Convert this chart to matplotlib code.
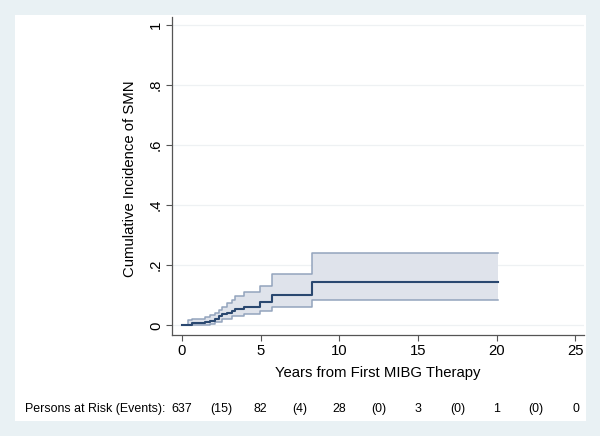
import matplotlib
matplotlib.use("Agg")
import matplotlib.pyplot as plt
from matplotlib.patches import Rectangle
from matplotlib.transforms import blended_transform_factory

plt.rcParams['font.family'] = ['Liberation Sans', 'DejaVu Sans']

# Data
times = [0, 0.42, 0.64, 1.49, 1.80, 2.12, 2.34, 2.55, 2.87, 3.18, 3.40, 3.93, 4.99, 5.73, 8.28, 20.05]
cif   = [0, 0.003, 0.008, 0.011, 0.016, 0.022, 0.030, 0.038, 0.043, 0.049, 0.056, 0.063, 0.077, 0.102, 0.143, 0.143]
upper = [0, 0.017, 0.022, 0.028, 0.036, 0.042, 0.052, 0.063, 0.074, 0.086, 0.099, 0.111, 0.130, 0.172, 0.241, 0.241]
lower = [0, 0.000, 0.003, 0.003, 0.006, 0.013, 0.013, 0.021, 0.021, 0.030, 0.030, 0.038, 0.047, 0.061, 0.086, 0.086]

x_ticks = [0, 5, 10, 15, 20, 25]
y_ticks = [0, 0.2, 0.4, 0.6, 0.8, 1.0]
y_tick_labels = ['0', '.2', '.4', '.6', '.8', '1']

risk_times = [0, 2.5, 5, 7.5, 10, 12.5, 15, 17.5, 20, 22.5, 25]
risk_labels = ['637', '(15)', '82', '(4)', '28', '(0)', '3', '(0)', '1', '(0)', '0']

W, H = 600, 436
fig = plt.figure(figsize=(6, 4.36), dpi=100)
fig.patch.set_facecolor('#e9f1f4')
fig.patches.append(Rectangle((15 / W, 1 - 421 / H), (586 - 15) / W, (421 - 15) / H,
                             transform=fig.transFigure, facecolor='white',
                             edgecolor='none', zorder=-10))

ax = fig.add_axes([172 / W, 1 - 335 / H, (584 - 172) / W, (335 - 17) / H])
ax.set_zorder(1)
ax.patch.set_alpha(0)
ax.set_xlim(-0.62, 25.54)
ax.set_ylim(-0.0316, 1.025)

for y in y_ticks:
    ax.axhline(y, color='#eef1f3', lw=0.9, zorder=0)

ax.fill_between(times, lower, upper, step='post', color='#dfe3eb', lw=0, zorder=1)
ax.step(times, upper, where='post', color='#93a4bd', lw=1.1, zorder=2)
ax.step(times, lower, where='post', color='#93a4bd', lw=1.1, zorder=2)
ax.step(times, cif, where='post', color='#2a4870', lw=1.5, zorder=3)

for s in ['top', 'right']:
    ax.spines[s].set_visible(False)
for s in ['left', 'bottom']:
    ax.spines[s].set_color('#555555')
    ax.spines[s].set_linewidth(0.9)

ax.set_xticks(x_ticks)
ax.set_xticklabels([str(v) for v in x_ticks])
ax.set_yticks(y_ticks)
ax.set_yticklabels(y_tick_labels, rotation=90, va='center')
ax.tick_params(axis='both', length=4, width=0.8, color='#555555', labelsize=10.7, pad=2.5)

fig.text(378 / W, 1 - 373 / H, 'Years from First MIBG Therapy', ha='center', va='center', fontsize=10.7)
fig.text(130.5 / W, 1 - 178.5 / H, 'Cumulative Incidence of SMN', ha='center', va='center',
         rotation=90, fontsize=10.7)

fig.text(25 / W, 1 - 409 / H, 'Persons at Risk (Events):', ha='left', va='center', fontsize=8.9)
tr = blended_transform_factory(ax.transData, fig.transFigure)
for t, lab in zip(risk_times, risk_labels):
    ax.text(t, 1 - 409 / H, lab, transform=tr, ha='center', va='center', fontsize=8.9, clip_on=False)

fig.savefig('out.png', dpi=100, facecolor=fig.get_facecolor())
